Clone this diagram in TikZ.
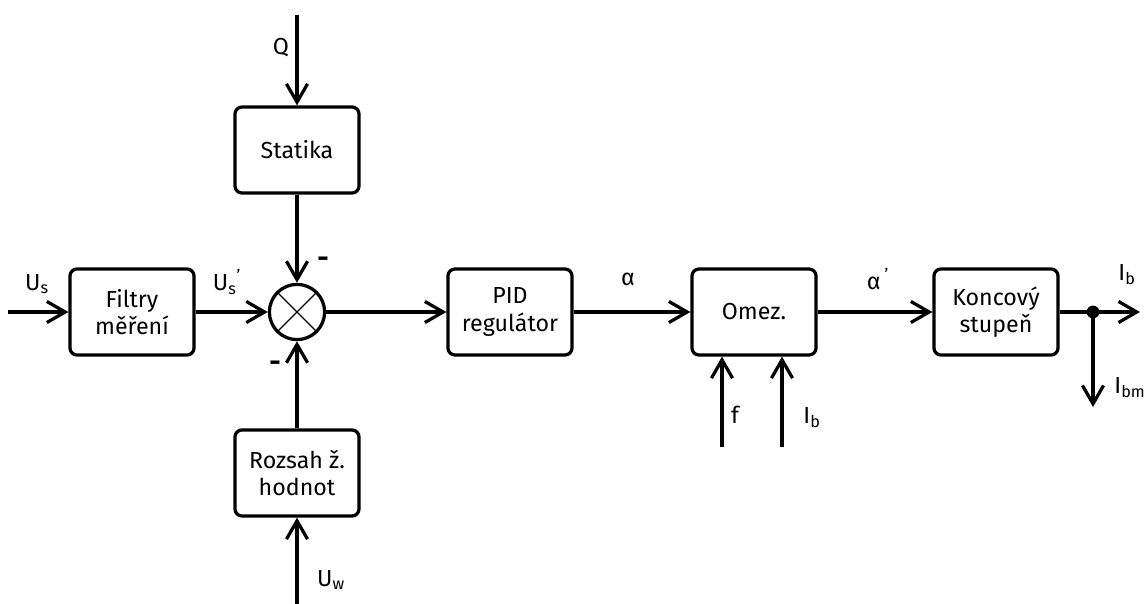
\documentclass[tikz,border=0pt]{standalone}
\usepackage{fontspec}
\setmainfont{Fira Sans}
\usetikzlibrary{arrows.meta}

\begin{document}
\begin{tikzpicture}[x=0.025cm,y=-0.025cm,
    blok/.style={draw,line width=2.3pt,rounded corners=5pt,minimum width=3.1cm,
      minimum height=2.15cm,align=center,font=\fontsize{16.5}{19.5}\selectfont},
    sig/.style={line width=2.3pt,-{Straight Barb[length=13pt,width=15pt]}},
    lbl/.style={font=\fontsize{16.5}{19.5}\selectfont}]
  \useasboundingbox (0,0) rectangle (1147,604);
  % bloky
  \node [blok] (filtr) at (132,312) {Filtry\\měření};
  \node [draw,circle,line width=2.3pt,minimum size=1.38cm] (soucet) at (297,312) {};
  \draw [line width=1pt] (soucet.north west) -- (soucet.south east)
        (soucet.north east) -- (soucet.south west);
  \node [blok] (statika) at (297,150) {Statika};
  \node [blok] (rozsah) at (297,473) {Rozsah ž.\\hodnot};
  \node [blok] (pid) at (510,312) {PID\\regulátor};
  \node [blok] (omez) at (754,312) {Omez.};
  \node [blok] (konc) at (996,312) {Koncový\\stupeň};
  \node [circle,fill,inner sep=0pt,minimum size=0.32cm] (uzel) at (1093,312) {};
  % volne konce
  \coordinate (vstup) at (8,312);
  \coordinate (q) at (297,15);
  \coordinate (uw) at (297,604);
  \coordinate (fvst) at (722,447);
  \coordinate (ibvst) at (782,447);
  \coordinate (vystup) at (1140,312);
  \coordinate (ibm) at (1093,407);
  % signaly
  \draw [sig] (vstup) -- (filtr);
  \draw [sig] (filtr) -- (soucet);
  \draw [sig] (q) -- (statika);
  \draw [sig] (statika) -- (soucet);
  \draw [sig] (uw) -- (rozsah);
  \draw [sig] (rozsah) -- (soucet);
  \draw [sig] (soucet) -- (pid);
  \draw [sig] (pid) -- (omez);
  \draw [sig] (omez) -- (konc);
  \draw [sig] (fvst) -- (fvst |- omez.south);
  \draw [sig] (ibvst) -- (ibvst |- omez.south);
  \draw [line width=2.3pt] (konc) -- (uzel.center);
  \draw [sig] (uzel.center) -- (vystup);
  \draw [sig] (uzel.center) -- (ibm);
  % popisky
  \node [lbl] (us) at (37,284) {U\textsubscript{s}};
  \node [lbl] (usc) at (227,282) {U\textsubscript{s}\textsuperscript{'}};
  \node [lbl,font=\fontsize{20}{20}\bfseries] (minus1) at (323,262) {-};
  \node [lbl,font=\fontsize{20}{20}\bfseries] (minus2) at (275,366) {-};
  \node [lbl] (qlbl) at (281,48) {Q};
  \node [lbl] (uwlbl) at (331,580) {U\textsubscript{w}};
  \node [lbl] (alfa) at (628,279) {α};
  \node [lbl] (alfac) at (878,279) {α\,\textsuperscript{'}};
  \node [lbl] (flbl) at (735,415) {f};
  \node [lbl] (iblbl) at (812,418) {I\textsubscript{b}};
  \node [lbl] (ibout) at (1127,275) {I\textsubscript{b}};
  \node [lbl] (ibmlbl) at (1130,388) {I\textsubscript{bm}};
\end{tikzpicture}
\end{document}
